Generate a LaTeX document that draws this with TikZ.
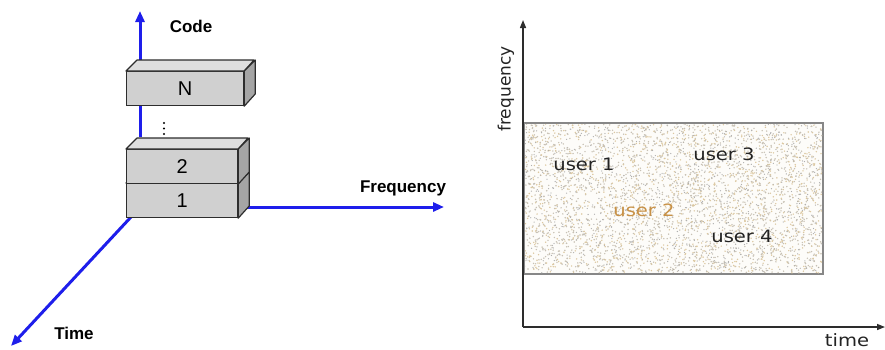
\documentclass[tikz,border=0pt]{standalone}
\usepackage{fontspec}
\setmainfont{Liberation Sans}
\newfontfamily\plotfont{DejaVu Sans}
\newfontfamily\plotwidefont[FakeStretch=1.15]{DejaVu Sans}
\usetikzlibrary{arrows.meta}

\definecolor{axisblue}{RGB}{30,30,235}
\definecolor{slabfront}{RGB}{208,208,208}
\definecolor{slabtop}{RGB}{222,222,222}
\definecolor{slabside}{RGB}{165,165,165}
\definecolor{slabedge}{RGB}{45,45,45}
\definecolor{plotaxis}{RGB}{45,45,45}
\definecolor{plotframe}{RGB}{135,135,135}
\definecolor{usertan}{RGB}{200,145,70}
\definecolor{usertext}{RGB}{35,35,35}
\definecolor{speckA}{RGB}{200,193,180}
\definecolor{speckB}{RGB}{220,200,160}
\definecolor{speckC}{RGB}{175,175,175}

\tikzset{
  blueaxis/.style={draw=axisblue, line width=3pt, -{Triangle[length=11pt,width=9pt]}},
  plotarrow/.style={draw=plotaxis, line width=1.4pt, -{Triangle[length=8pt,width=6pt]}},
  slabface/.style={draw=slabedge, line width=1.2pt, fill=slabfront, inner sep=0pt,
    anchor=north west, font=\fontsize{20}{22}\selectfont},
  slabrim/.style={draw=slabedge, line width=1.2pt, line join=round},
  axislabel/.style={font=\bfseries\fontsize{17}{20}\selectfont, inner sep=0pt},
  userlabel/.style={font=\plotwidefont\fontsize{17}{20}\selectfont, text=usertext, inner sep=0pt},
}

% slab: name, left x, top y, width, label
\newcommand{\slab}[5]{%
  \node[slabface, minimum width=#4pt, minimum height=34pt] (#1) at (#2,#3) {#5};
  \draw[slabrim, fill=slabtop] (#1.north west) -- ++(11,-11) -- ++(#4,0) -- (#1.north east) -- cycle;
  \draw[slabrim, fill=slabside] (#1.north east) -- ++(11,-11) -- ++(0,34) -- (#1.south east) -- cycle;
}

\begin{document}
\begin{tikzpicture}[x=1pt, y=-1pt]
\useasboundingbox (0,0) rectangle (885,349);

% ---------- code / frequency / time axes ----------
\coordinate (codebase) at (140,137);
\coordinate (codetip) at (140,11);
\coordinate (timebase) at (131,217);
\coordinate (timetip) at (11,346);
\coordinate (freqbase) at (247,207);
\coordinate (freqtip) at (444,207);

\draw[blueaxis] (codebase) -- (codetip);
\draw[blueaxis] (timebase) -- (timetip);
\draw[blueaxis] (freqbase) -- (freqtip);

% ---------- stacked code slabs, bottom first ----------
\slab{slabone}{126}{183}{111}{1}
\slab{slabtwo}{126}{149}{111}{2}
\slab{slabN}{126}{71}{117}{N}

% vertical ellipsis between the slabs
\foreach \yy in {123,128.5,134}
  \fill[black] (164,\yy) circle[radius=1.1pt];

\node[axislabel] (codelabel) at (191,26) {Code};
\node[axislabel] (freqlabel) at (403,188) {Frequency};
\node[axislabel] (timelabel) at (74,333) {Time};

% ---------- time/frequency plane ----------
\node[draw=plotframe, line width=1.2pt, fill=white!94!speckB, minimum width=298pt,
      minimum height=150pt, inner sep=0pt, anchor=north west] (band) at (524,123) {};

\begin{scope}
  \clip (band.north west) rectangle (band.south east);
  \pgfmathsetseed{4711}
  \foreach \i in {1,...,2200}
    \fill[speckA] ({524+298*rnd},{123+150*rnd}) circle[radius=0.8pt];
  \foreach \i in {1,...,1300}
    \fill[speckB] ({524+298*rnd},{123+150*rnd}) circle[radius=0.8pt];
  \foreach \i in {1,...,900}
    \fill[speckC] ({524+298*rnd},{123+150*rnd}) circle[radius=0.65pt];
\end{scope}
\draw[draw=plotframe, line width=1.2pt] (band.north west) rectangle (band.south east);

\coordinate (porigin) at (523,327);
\coordinate (ptop) at (523,20);
\coordinate (pright) at (885,327);
\draw[plotarrow] (porigin) -- (ptop);
\draw[plotarrow] (porigin) -- (pright);

\node[font=\plotfont\fontsize{17}{20}\selectfont, text=usertext, inner sep=0pt, rotate=90]
  (flabel) at (506,89) {frequency};
\node[userlabel] (tlabel) at (847,340) {time};

\node[userlabel] (user1) at (584,164) {user 1};
\node[userlabel, text=usertan] (user2) at (644,210) {user 2};
\node[userlabel] (user3) at (724,154) {user 3};
\node[userlabel] (user4) at (742,236) {user 4};
\end{tikzpicture}
\end{document}
